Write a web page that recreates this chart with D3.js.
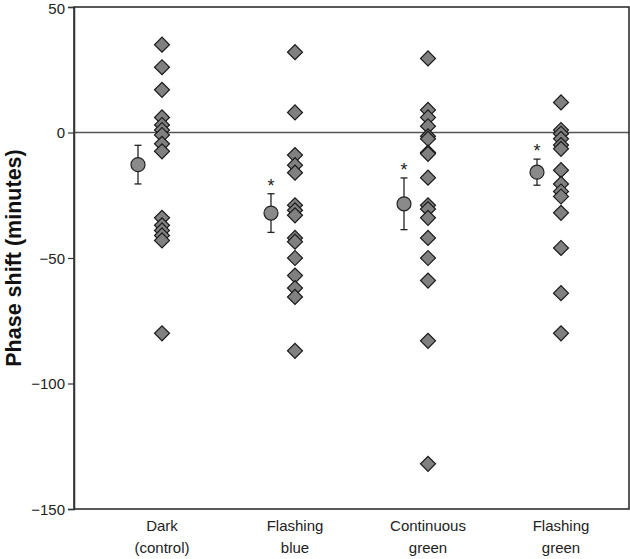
<!DOCTYPE html>
<html>
<head>
<meta charset="utf-8">
<script src="https://cdn.jsdelivr.net/npm/d3@7"></script>
<style>
  body { margin: 0; background: #fff; }
  svg { display: block; font-family: "Liberation Sans", Arial, sans-serif; }
</style>
</head>
<body>
<svg id="chart" width="630" height="559"></svg>
<script>
// categories (two-line labels)
const categories = ["dark", "fblue", "cgreen", "fgreen"];
const catLabels = [["Dark", "(control)"], ["Flashing", "blue"], ["Continuous", "green"], ["Flashing", "green"]];

// individual phase shifts (minutes)
const darkValues = [35, 26, 17, 6, 3, 1, -1, -4.5, -7.5, -34, -37, -39, -41, -43, -80];
const flashBlueValues = [32, 8, -9, -13, -16, -29, -31, -33, -42, -43.5, -50, -57, -62, -65.5, -87];
const contGreenValues = [29.5, 9, 6, 2.5, -1.5, -2.5, -8, -8.5, -18, -29, -30.5, -34, -42, -50, -59, -83, -132];
const flashGreenValues = [12, 1, -0.5, -2.5, -5, -6.5, -15, -20.5, -23.5, -25.5, -32, -46, -64, -80];

// group means and error bars
const means = [-12.8, -32.1, -28.4, -15.8];
const errors = [7.7, 7.7, 10.3, 5.2];
const significant = [false, true, true, true];

const yTicks = [50, 0, -50, -100, -150];

const seriesByCat = [darkValues, flashBlueValues, contGreenValues, flashGreenValues];

const margin = { top: 7, left: 74, right: 1, bottom: 50 };
const width = 630 - margin.left - margin.right;
const height = 559 - margin.top - margin.bottom;

const svg = d3.select("#chart");
const g = svg.append("g").attr("transform", `translate(${margin.left},${margin.top})`);

const x = d3.scalePoint().domain(categories).range([88, 487]);
const y = d3.scaleLinear().domain([-150, 50]).range([height, 0]);
const meanOffset = -24; // mean markers sit left of the scatter column

// zero line
g.append("line")
  .attr("x1", 0).attr("x2", width)
  .attr("y1", y(0)).attr("y2", y(0))
  .attr("stroke", "#555").attr("stroke-width", 1.5);

// frame
g.append("rect")
  .attr("x", 0).attr("y", 0)
  .attr("width", width).attr("height", height)
  .attr("fill", "none").attr("stroke", "#222").attr("stroke-width", 1.5);

// y axis
const yAxis = d3.axisLeft(y).tickValues(yTicks).tickSize(6).tickPadding(3);
const yAxisG = g.append("g").call(yAxis);
yAxisG.select(".domain").attr("stroke", "#333").attr("stroke-width", 1.5);
yAxisG.selectAll(".tick line").attr("stroke", "#333").attr("stroke-width", 1.2);
yAxisG.selectAll(".tick text")
  .attr("font-size", 15).attr("fill", "#222")
  .attr("dy", d => d === 50 ? "0.45em" : "0.35em")
  .attr("font-family", "'Liberation Sans', Arial, sans-serif");

// y title
svg.append("text")
  .attr("transform", `translate(21,${margin.top + height / 2}) rotate(-90)`)
  .attr("text-anchor", "middle")
  .attr("font-size", 21.5)
  .attr("font-weight", "bold")
  .attr("fill", "#111")
  .text("Phase shift (minutes)");

// category labels
categories.forEach(function (c, i) {
  const t = g.append("text")
    .attr("text-anchor", "middle")
    .attr("font-size", 15)
    .attr("fill", "#222");
  catLabels[i].forEach(function (line, j) {
    t.append("tspan")
      .attr("x", x(c))
      .attr("y", height + 22 + j * 22)
      .text(line);
  });
});

// individual points as diamonds
const diamond = d3.symbol().type(d3.symbolSquare).size(112);
categories.forEach(function (c, i) {
  g.selectAll(".pt-" + c)
    .data(seriesByCat[i])
    .join("path")
    .attr("class", "pt-" + c)
    .attr("d", diamond)
    .attr("transform", d => `translate(${x(c)},${y(d)}) rotate(45)`)
    .attr("fill", "#808080")
    .attr("stroke", "#1a1a1a")
    .attr("stroke-width", 1.2);
});

// means with error bars
const meanG = g.selectAll(".mean")
  .data(categories)
  .join("g")
  .attr("class", "mean")
  .attr("transform", c => `translate(${x(c) + meanOffset},0)`);

meanG.append("line")
  .attr("y1", (c, i) => y(means[i] + errors[i]))
  .attr("y2", (c, i) => y(means[i] - errors[i]))
  .attr("stroke", "#222").attr("stroke-width", 1.3);
meanG.append("line")
  .attr("x1", -3.5).attr("x2", 3.5)
  .attr("y1", (c, i) => y(means[i] + errors[i]))
  .attr("y2", (c, i) => y(means[i] + errors[i]))
  .attr("stroke", "#222").attr("stroke-width", 1.3);
meanG.append("line")
  .attr("x1", -3.5).attr("x2", 3.5)
  .attr("y1", (c, i) => y(means[i] - errors[i]))
  .attr("y2", (c, i) => y(means[i] - errors[i]))
  .attr("stroke", "#222").attr("stroke-width", 1.3);
meanG.append("circle")
  .attr("cy", (c, i) => y(means[i]))
  .attr("r", 7)
  .attr("fill", "#8a8a8a")
  .attr("stroke", "#222")
  .attr("stroke-width", 1.2);
meanG.filter((c, i) => significant[i])
  .append("text")
  .attr("text-anchor", "middle")
  .attr("y", c => { const i = categories.indexOf(c); return y(means[i] + errors[i]) + 5; })
  .attr("dy", "-0.4em")
  .attr("font-size", 18)
  .attr("fill", "#222")
  .text("*");
</script>
</body>
</html>
